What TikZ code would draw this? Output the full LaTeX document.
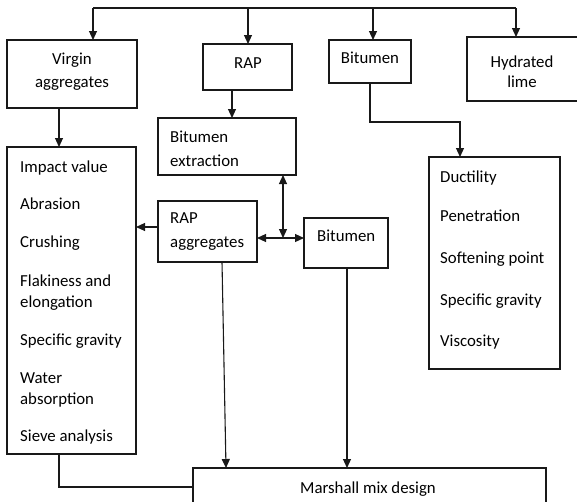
\documentclass[tikz,border=0pt]{standalone}
\usepackage{fontspec}
\setmainfont{Carlito}
\usetikzlibrary{arrows.meta}
\begin{document}
\begin{tikzpicture}[x=1pt,y=-1pt,
  box/.style={draw=black!90, line width=1.1pt, inner sep=0pt, outer sep=0pt, anchor=north west},
  lbl/.style={anchor=base west, inner sep=0pt, font=\fontsize{16.8}{21}\selectfont},
  ctr/.style={anchor=base, inner sep=0pt, font=\fontsize{16.8}{21}\selectfont},
  arr/.style={draw=black!90, line width=1.1pt, -{Triangle[length=9pt,width=8pt]}},
  darr/.style={draw=black!90, line width=1.1pt, {Triangle[length=9pt,width=8pt]}-{Triangle[length=9pt,width=8pt]}},
  ln/.style={draw=black!90, line width=1.1pt}]
\clip (0,0) rectangle (577,501);
\fill[white] (0,0) rectangle (577,501);
% boxes
\node[box, minimum width=130pt, minimum height=68pt] (virgin) at (7,40) {};
\node[box, minimum width=89pt, minimum height=46pt] (rap) at (203,44) {};
\node[box, minimum width=82pt, minimum height=43pt] (bit1) at (329,40) {};
\node[box, minimum width=113pt, minimum height=64pt] (lime) at (467,37) {};
\node[box, minimum width=129pt, minimum height=307pt] (list) at (7,147) {};
\node[box, minimum width=138pt, minimum height=57pt] (extr) at (158,118) {};
\node[box, minimum width=99pt, minimum height=61pt] (ragg) at (158,201) {};
\node[box, minimum width=84pt, minimum height=50pt] (bit2) at (304,218) {};
\node[box, minimum width=131pt, minimum height=212pt] (duct) at (429,157) {};
\node[box, minimum width=353pt, minimum height=60pt] (marsh) at (193,468) {};
% texts
\node[ctr] (vt1) at (72,64) {Virgin};
\node[ctr] (vt2) at (72,87) {aggregates};
\node[ctr] (rt) at (248,68) {RAP};
\node[ctr] (bt1) at (370,63) {Bitumen};
\node[ctr] (lt1) at (522,67) {Hydrated};
\node[ctr] (lt2) at (522,87) {lime};
\node[lbl] (et1) at (170,142) {Bitumen};
\node[lbl] (et2) at (170,166) {extraction};
\node[lbl] (ra1) at (170,223) {RAP};
\node[lbl] (ra2) at (170,247) {aggregates};
\node[lbl] (bt2) at (317,241) {Bitumen};
\node[lbl] (l1) at (20,172) {Impact value};
\node[lbl] (l2) at (20,209) {Abrasion};
\node[lbl] (l3) at (20,247) {Crushing};
\node[lbl] (l4) at (20,286) {Flakiness and};
\node[lbl] (l5) at (20,307) {elongation};
\node[lbl] (l6) at (20,345) {Specific gravity};
\node[lbl] (l7) at (20,383) {Water};
\node[lbl] (l8) at (20,404) {absorption};
\node[lbl] (l9) at (20,441) {Sieve analysis};
\node[lbl] (d1) at (440,182) {Ductility};
\node[lbl] (d2) at (440,221) {Penetration};
\node[lbl] (d3) at (440,263) {Softening point};
\node[lbl] (d4) at (440,305) {Specific gravity};
\node[lbl] (d5) at (440,346) {Viscosity};
\node[ctr] (mt) at (368,493) {Marshall mix design};
% top distribution line
\coordinate (t1) at (93,8);
\coordinate (t2) at (248,8);
\coordinate (t3) at (373,8);
\coordinate (t4) at (516,8);
\draw[ln] (t1) -- (t4);
\draw[arr] (t1) -- (t1 |- virgin.north);
\draw[arr] (t2) -- (t2 |- rap.north);
\draw[arr] (t3) -- (t3 |- bit1.north);
\draw[arr] (t4) -- (t4 |- lime.north);
% vertical links
\coordinate (v1) at (59,108);
\draw[arr] (v1) -- (v1 |- list.north);
\coordinate (r1) at (232,90);
\draw[arr] (r1) -- (r1 |- extr.north);
\coordinate (b1) at (370,83);
\coordinate (b2) at (370,122);
\coordinate (b3) at (460,122);
\draw[arr] (b1) -- (b2) -- (b3) -- (b3 |- duct.north);
% RAP aggregates to list
\coordinate (g1) at (158,227);
\draw[arr] (g1) -- (g1 -| list.east);
% double arrows
\coordinate (x1) at (283,175);
\coordinate (x2) at (283,238);
\draw[darr] (x1) -- (x2);
\coordinate (h1) at (257,238);
\draw[darr] (h1) -- (h1 -| bit2.west);
% to Marshall
\coordinate (m1) at (222,262);
\coordinate (m2) at (226,468);
\draw[arr] (m1) -- (m2);
\coordinate (m3) at (347,268);
\draw[arr] (m3) -- (m3 |- marsh.north);
\coordinate (s1) at (59,454);
\coordinate (s2) at (59,487);
\draw[ln] (s1) -- (s2) -- (s2 -| marsh.west);
\end{tikzpicture}
\end{document}
